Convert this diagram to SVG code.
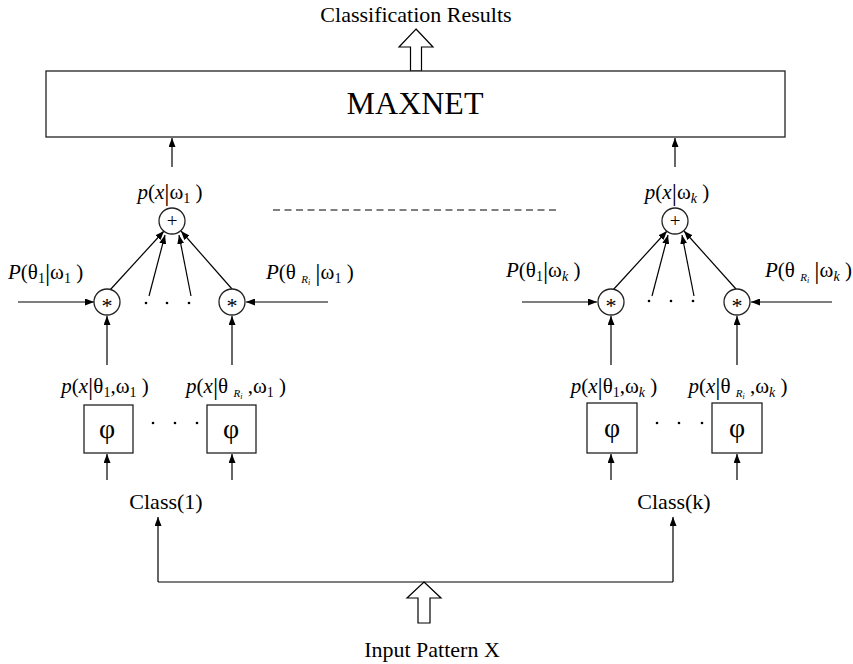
<svg xmlns="http://www.w3.org/2000/svg" width="853" height="664" viewBox="0 0 853 664">
  <style>
    text { font-family: "Liberation Serif", "Times New Roman", serif; fill: #000; }
    .lbl { font-size: 21px; }
    .big { font-size: 22px; }
    .it { font-style: italic; }
    .bar { font-size: 26px; }
    .sub { font-size: 14px; }
    .subi { font-size: 11px; font-style: italic; }
    .subii { font-size: 8px; font-style: italic; }
    .op { font-size: 22px; }
    .ln { stroke: #000; stroke-width: 1.2; fill: none; }
    .box { stroke: #222; stroke-width: 1.3; fill: #fff; }
    .hollow { stroke: #000; stroke-width: 1.2; fill: #fff; }
    .dot { fill: #000; }
  </style>
  <defs>
    <marker id="ah" markerWidth="9" markerHeight="7" refX="9" refY="3.5" orient="auto" markerUnits="userSpaceOnUse">
      <path d="M0,0 L9,3.5 L0,7 Z" fill="#000"/>
    </marker>
  </defs>

  <rect width="853" height="664" fill="#fff"/>

  <!-- classifier output -->
  <g id="output">
    <text x="416" y="22" text-anchor="middle" class="big">Classification Results</text>
    <polygon class="hollow" points="416,29 433,47 421.5,47 421.5,71 410.5,71 410.5,47 399,47"/>
  </g>

  <g id="maxnet">
    <rect class="box" x="46" y="71" width="739" height="66"/>
    <text x="415" y="114" text-anchor="middle" font-size="32">MAXNET</text>
  </g>

  <!-- connectors -->
  <g id="connectors" class="ln">
    <!-- class 1 branch -->
    <line x1="172" y1="167" x2="172" y2="138" marker-end="url(#ah)"/>
    <line x1="110" y1="290" x2="164" y2="231" marker-end="url(#ah)"/>
    <line x1="232" y1="289" x2="181" y2="231" marker-end="url(#ah)"/>
    <line x1="149" y1="296" x2="165" y2="235" marker-end="url(#ah)"/>
    <line x1="191" y1="296" x2="179" y2="235" marker-end="url(#ah)"/>
    <line x1="18" y1="302" x2="94" y2="302" marker-end="url(#ah)"/>
    <line x1="328" y1="302" x2="246" y2="302" marker-end="url(#ah)"/>
    <line x1="107" y1="365" x2="107" y2="316" marker-end="url(#ah)"/>
    <line x1="232" y1="365" x2="232" y2="316" marker-end="url(#ah)"/>
    <line x1="107" y1="480" x2="107" y2="454" marker-end="url(#ah)"/>
    <line x1="232" y1="480" x2="232" y2="454" marker-end="url(#ah)"/>
    <!-- class k branch -->
    <line x1="675" y1="167" x2="675" y2="138" marker-end="url(#ah)"/>
    <line x1="613" y1="290" x2="667" y2="231" marker-end="url(#ah)"/>
    <line x1="736" y1="289" x2="684" y2="231" marker-end="url(#ah)"/>
    <line x1="652" y1="296" x2="668" y2="235" marker-end="url(#ah)"/>
    <line x1="694" y1="296" x2="682" y2="235" marker-end="url(#ah)"/>
    <line x1="522" y1="302" x2="597" y2="302" marker-end="url(#ah)"/>
    <line x1="832" y1="302" x2="751" y2="302" marker-end="url(#ah)"/>
    <line x1="611" y1="365" x2="611" y2="316" marker-end="url(#ah)"/>
    <line x1="737" y1="365" x2="737" y2="316" marker-end="url(#ah)"/>
    <line x1="611" y1="480" x2="611" y2="454" marker-end="url(#ah)"/>
    <line x1="737" y1="480" x2="737" y2="454" marker-end="url(#ah)"/>
    <!-- input fan-out -->
    <line x1="158" y1="582" x2="673" y2="582"/>
    <line x1="158" y1="582" x2="158" y2="517" marker-end="url(#ah)"/>
    <line x1="673" y1="582" x2="673" y2="517" marker-end="url(#ah)"/>
    <!-- ellipsis between classes -->
    <line x1="273" y1="210" x2="557" y2="210" stroke-dasharray="7,4.5"/>
  </g>

  <g id="input">
    <polygon class="hollow" points="424,582 441,598 430,598 430,623 418,623 418,598 407,598"/>
    <text x="432" y="657" text-anchor="middle" class="big">Input Pattern X</text>
  </g>

  <!-- class 1 nodes -->
  <g id="sum1">
    <circle cx="172" cy="221" r="13" class="box"/>
    <text x="172" y="227" text-anchor="middle" font-size="19">+</text>
    <text x="170" y="199" text-anchor="middle" class="lbl"><tspan class="it">p</tspan>(<tspan class="it">x</tspan><tspan class="bar" dy="2">|</tspan><tspan dy="-2">ω</tspan><tspan class="sub" dy="4">1</tspan><tspan dy="-4"> )</tspan></text>
  </g>
  <g id="mul1a">
    <circle cx="107" cy="302" r="13" class="box"/>
    <text x="107" y="313" text-anchor="middle" class="op">*</text>
    <text x="8" y="279" class="lbl"><tspan class="it">P</tspan>(θ<tspan class="sub" dy="4">1</tspan><tspan class="bar" dy="-2">|</tspan><tspan dy="-2">ω</tspan><tspan class="sub" dy="4">1</tspan><tspan dy="-4"> )</tspan></text>
  </g>
  <g id="mul1b">
    <circle cx="232" cy="302" r="13" class="box"/>
    <text x="232" y="313" text-anchor="middle" class="op">*</text>
    <text x="266" y="279" class="lbl"><tspan class="it">P</tspan>(θ <tspan class="subi" dy="4">R</tspan><tspan class="subii" dy="2">i</tspan><tspan dy="-6"> </tspan><tspan class="bar" dy="2">|</tspan><tspan dy="-2">ω</tspan><tspan class="sub" dy="4">1</tspan><tspan dy="-4"> )</tspan></text>
  </g>
  <g id="dots1">
    <circle class="dot" cx="146" cy="303" r="1.3"/>
    <circle class="dot" cx="167" cy="303" r="1.3"/>
    <circle class="dot" cx="189" cy="303" r="1.3"/>
  </g>
  <g id="phi1a">
    <rect x="84" y="405" width="49" height="48" class="box"/>
    <text x="107" y="438" text-anchor="middle" font-size="28">φ</text>
    <text x="105" y="393" text-anchor="middle" class="lbl"><tspan class="it">p</tspan>(<tspan class="it">x</tspan><tspan class="bar" dy="2">|</tspan><tspan dy="-2">θ</tspan><tspan class="sub" dy="4">1</tspan><tspan dy="-4">,ω</tspan><tspan class="sub" dy="4">1</tspan><tspan dy="-4"> )</tspan></text>
  </g>
  <g id="phi1b">
    <rect x="207" y="405" width="49" height="48" class="box"/>
    <text x="231" y="438" text-anchor="middle" font-size="28">φ</text>
    <text x="236" y="393" text-anchor="middle" class="lbl"><tspan class="it">p</tspan>(<tspan class="it">x</tspan><tspan class="bar" dy="2">|</tspan><tspan dy="-2">θ </tspan><tspan class="subi" dy="4">R</tspan><tspan class="subii" dy="2">i</tspan><tspan dy="-6"> ,ω</tspan><tspan class="sub" dy="4">1</tspan><tspan dy="-4"> )</tspan></text>
  </g>
  <g id="dotsphi1">
    <circle class="dot" cx="153" cy="423" r="1.3"/>
    <circle class="dot" cx="175" cy="423" r="1.3"/>
    <circle class="dot" cx="197" cy="423" r="1.3"/>
  </g>
  <g id="class1">
    <text x="166" y="509" text-anchor="middle" class="big">Class(1)</text>
  </g>

  <!-- class k nodes -->
  <g id="sumk">
    <circle cx="675" cy="221" r="13" class="box"/>
    <text x="675" y="227" text-anchor="middle" font-size="19">+</text>
    <text x="677" y="199" text-anchor="middle" class="lbl"><tspan class="it">p</tspan>(<tspan class="it">x</tspan><tspan class="bar" dy="2">|</tspan><tspan dy="-2">ω</tspan><tspan class="sub it" dy="4">k</tspan><tspan dy="-4"> )</tspan></text>
  </g>
  <g id="mulka">
    <circle cx="611" cy="302" r="13" class="box"/>
    <text x="611" y="313" text-anchor="middle" class="op">*</text>
    <text x="506" y="277" class="lbl"><tspan class="it">P</tspan>(θ<tspan class="sub" dy="4">1</tspan><tspan class="bar" dy="-2">|</tspan><tspan dy="-2">ω</tspan><tspan class="sub it" dy="4">k</tspan><tspan dy="-4"> )</tspan></text>
  </g>
  <g id="mulkb">
    <circle cx="737" cy="302" r="13" class="box"/>
    <text x="737" y="313" text-anchor="middle" class="op">*</text>
    <text x="765" y="277" class="lbl"><tspan class="it">P</tspan>(θ <tspan class="subi" dy="4">R</tspan><tspan class="subii" dy="2">i</tspan><tspan dy="-6"> </tspan><tspan class="bar" dy="2">|</tspan><tspan dy="-2">ω</tspan><tspan class="sub it" dy="4">k</tspan><tspan dy="-4"> )</tspan></text>
  </g>
  <g id="dotsk">
    <circle class="dot" cx="649" cy="301" r="1.3"/>
    <circle class="dot" cx="671" cy="301" r="1.3"/>
    <circle class="dot" cx="693" cy="301" r="1.3"/>
  </g>
  <g id="phika">
    <rect x="587" y="403" width="50" height="50" class="box"/>
    <text x="612" y="437" text-anchor="middle" font-size="28">φ</text>
    <text x="614" y="393" text-anchor="middle" class="lbl"><tspan class="it">p</tspan>(<tspan class="it">x</tspan><tspan class="bar" dy="2">|</tspan><tspan dy="-2">θ</tspan><tspan class="sub" dy="4">1</tspan><tspan dy="-4">,ω</tspan><tspan class="sub it" dy="4">k</tspan><tspan dy="-4"> )</tspan></text>
  </g>
  <g id="phikb">
    <rect x="712" y="403" width="50" height="50" class="box"/>
    <text x="737" y="437" text-anchor="middle" font-size="28">φ</text>
    <text x="738" y="393" text-anchor="middle" class="lbl"><tspan class="it">p</tspan>(<tspan class="it">x</tspan><tspan class="bar" dy="2">|</tspan><tspan dy="-2">θ </tspan><tspan class="subi" dy="4">R</tspan><tspan class="subii" dy="2">i</tspan><tspan dy="-6"> ,ω</tspan><tspan class="sub it" dy="4">k</tspan><tspan dy="-4"> )</tspan></text>
  </g>
  <g id="dotsphik">
    <circle class="dot" cx="657" cy="423" r="1.3"/>
    <circle class="dot" cx="679" cy="423" r="1.3"/>
    <circle class="dot" cx="702" cy="423" r="1.3"/>
  </g>
  <g id="classk">
    <text x="674" y="509" text-anchor="middle" class="big">Class(k)</text>
  </g>
</svg>
